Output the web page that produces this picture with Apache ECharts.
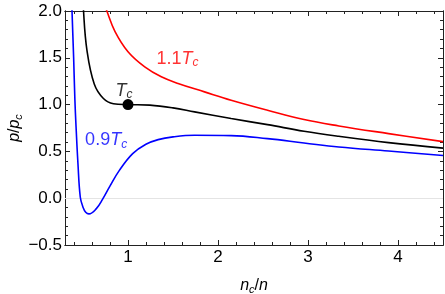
<!DOCTYPE html>
<html>
<head>
<meta charset="utf-8">
<script src="https://cdn.jsdelivr.net/npm/echarts@6/dist/echarts.min.js"></script>
<style>html,body{margin:0;padding:0;background:#fff;}#c{width:445px;height:294px;}</style>
</head>
<body>
<div id="c"></div>
<script>
// Curves: x = n_c/n, y = p/p_c
var vBlue = [0.370, 0.378, 0.396, 0.410, 0.425, 0.444, 0.470, 0.500, 0.530, 0.566, 0.646, 0.720, 0.793, 0.904, 1.052, 1.199, 1.335, 1.500, 1.740, 2.146, 2.550, 2.956, 3.343, 3.895, 4.500];
var pBlue = [2.30, 2.00, 1.50, 1.05, 0.72, 0.368, 0.01, -0.096, -0.150, -0.168, -0.114, -0.007, 0.118, 0.297, 0.476, 0.576, 0.626, 0.655, 0.672, 0.669, 0.636, 0.590, 0.547, 0.504, 0.456];
var vBlack = [0.490, 0.506, 0.544, 0.625, 0.727, 0.838, 1.000, 1.243, 1.500, 1.740, 2.146, 2.550, 2.956, 3.343, 3.895, 4.500];
var pBlack = [2.40, 2.00, 1.58, 1.22, 1.065, 1.01, 1.00, 0.994, 0.965, 0.922, 0.851, 0.786, 0.715, 0.661, 0.594, 0.535];
var vRed = [0.740, 0.765, 0.856, 1.000, 1.190, 1.370, 1.556, 1.850, 2.146, 2.550, 2.956, 3.343, 3.895, 4.500];
var pRed = [2.07, 2.00, 1.78, 1.565, 1.40, 1.297, 1.226, 1.136, 1.047, 0.94, 0.84, 0.772, 0.69, 0.604];
var criticalPoint = [1.0, 1.0];
var labelBlue = [0.757, 0.618];
var labelBlack = [0.956, 1.144];
var labelRed = [1.55, 1.487];
var xTickLabels = [1, 2, 3, 4];
var yTickLabels = [-0.5, 0.0, 0.5, 1.0, 1.5, 2.0];
var xMinorTicks = [0.4, 0.6, 0.8, 1.2, 1.4, 1.6, 1.8, 2.2, 2.4, 2.6, 2.8, 3.2, 3.4, 3.6, 3.8, 4.2, 4.4];
var yMinorTicks = [-0.4, -0.3, -0.2, -0.1, 0.1, 0.2, 0.3, 0.4, 0.6, 0.7, 0.8, 0.9, 1.1, 1.2, 1.3, 1.4, 1.6, 1.7, 1.8, 1.9];

function pairs(xs, ys) { return xs.map(function (x, i) { return [x, ys[i]]; }); }

var FONT = '"Liberation Sans", Arial, sans-serif';
var XMIN = 0.3, XMAX = 4.5, YMIN = -0.5, YMAX = 2.0;
var frameColor = '#222';
var TICKFS = 17;

function nameRich() {
  return {
    i: { fontStyle: 'italic', fontSize: 16, fontFamily: FONT, color: '#000' },
    r: { fontSize: 16, fontFamily: FONT, color: '#000' },
    s: { fontStyle: 'italic', fontSize: 11, fontFamily: FONT, color: '#000', padding: [7, 0, 0, 0] }
  };
}

function xAx(pos, major, labels) {
  return {
    type: 'value', position: pos, min: XMIN, max: XMAX,
    axisLine: { show: true, onZero: false, lineStyle: { color: frameColor, width: 1 } },
    axisTick: { show: true, inside: true, length: major ? 5 : 3, customValues: major ? xTickLabels : xMinorTicks, lineStyle: { color: frameColor } },
    axisLabel: labels ? { show: true, customValues: xTickLabels, margin: 4, color: '#000', fontSize: TICKFS, fontFamily: FONT } : { show: false },
    splitLine: { show: false },
    name: labels ? '{i|n}{s|c}{r|/}{i|n}' : '',
    nameLocation: 'middle', nameGap: 32, nameMoveOverlap: false,
    nameTextStyle: { rich: nameRich() }
  };
}
function yAx(pos, major, labels) {
  return {
    type: 'value', position: pos, min: YMIN, max: YMAX,
    axisLine: { show: true, onZero: false, lineStyle: { color: frameColor, width: 1 } },
    axisTick: { show: true, inside: true, length: major ? 5 : 3, customValues: major ? yTickLabels : yMinorTicks, lineStyle: { color: frameColor } },
    axisLabel: labels ? { show: true, customValues: yTickLabels, margin: 3, color: '#000', fontSize: TICKFS, fontFamily: FONT,
      formatter: function (v) { return v.toFixed(1).replace('-', '\u2212'); } } : { show: false },
    splitLine: { show: false },
    name: labels ? '{i|p}{r|/}{i|p}{s|c}' : '',
    nameLocation: 'middle', nameGap: 41, nameMoveOverlap: false,
    nameTextStyle: { rich: nameRich() }
  };
}

function curveLabel(pt, num, color) {
  return {
    type: 'scatter', xAxisIndex: 0, yAxisIndex: 0, symbolSize: 0, silent: true, z: 5,
    data: [pt],
    label: { show: true, position: 'inside',
      formatter: (num ? '{n|' + num + '}' : '') + '{t|T}{s|c}',
      rich: {
        n: { fontSize: 18, fontFamily: FONT, color: color },
        t: { fontSize: 18, fontStyle: 'italic', fontFamily: FONT, color: color },
        s: { fontSize: 12, fontStyle: 'italic', fontFamily: FONT, color: color, padding: [8, 0, 0, 0] }
      } }
  };
}

var lineBase = { type: 'line', xAxisIndex: 0, yAxisIndex: 0, showSymbol: false, smooth: 0.4, clip: true, silent: true };

var chart = echarts.init(document.getElementById('c'), null, { renderer: 'canvas' });
chart.setOption({
  animation: false,
  backgroundColor: '#fff',
  grid: { left: 65, right: 2, top: 11, bottom: 49, containLabel: false, outerBoundsMode: 'none' },
  xAxis: [xAx('bottom', true, true), xAx('bottom', false, false), xAx('top', true, false), xAx('top', false, false)],
  yAxis: [yAx('left', true, true), yAx('left', false, false), yAx('right', true, false), yAx('right', false, false)],
  series: [
    Object.assign({}, lineBase, { data: pairs(vBlue, pBlue), lineStyle: { color: '#0000ff', width: 1.6 }, z: 3,
      markLine: { silent: true, symbol: 'none', label: { show: false }, lineStyle: { color: '#e4e4e4', width: 1, type: 'solid' }, data: [{ yAxis: 0 }], z: 1 } }),
    Object.assign({}, lineBase, { data: pairs(vBlack, pBlack), lineStyle: { color: '#000000', width: 1.6 }, z: 3 }),
    Object.assign({}, lineBase, { data: pairs(vRed, pRed), lineStyle: { color: '#ff0000', width: 1.6 }, z: 3 }),
    { type: 'scatter', xAxisIndex: 0, yAxisIndex: 0, data: [criticalPoint], symbolSize: 11, itemStyle: { color: '#000', opacity: 1 }, z: 4, silent: true },
    curveLabel(labelBlue, '0.9', '#0000ff'),
    curveLabel(labelBlack, '', '#000000'),
    curveLabel(labelRed, '1.1', '#ff0000')
  ]
});
</script>
</body>
</html>
